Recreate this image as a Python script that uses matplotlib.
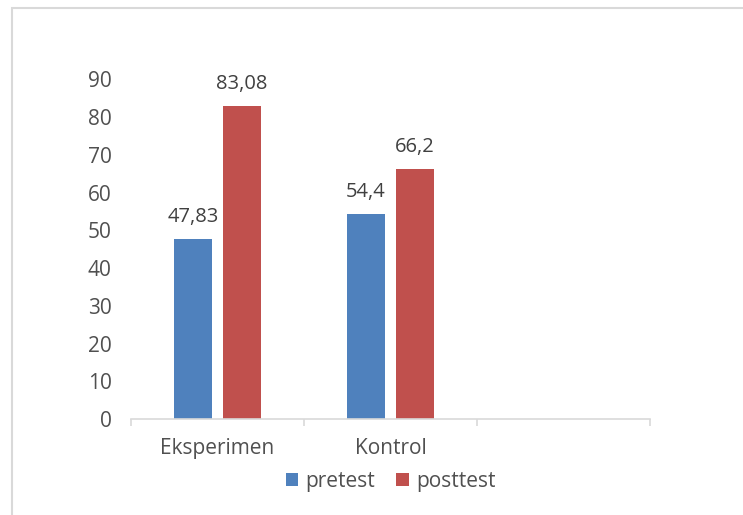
import matplotlib

matplotlib.use("Agg")
import matplotlib.pyplot as plt
import numpy as np
from matplotlib.patches import Rectangle

plt.rcParams["font.family"] = ["Open Sans", "DejaVu Sans"]

categories = ["Eksperimen", "Kontrol", ""]
series_names = ["pretest", "posttest"]
pretest = [47.83, 54.4]
posttest = [83.08, 66.2]
pretest_labels = ["47,83", "54,4"]
posttest_labels = ["83,08", "66,2"]
y_ticks = [0, 10, 20, 30, 40, 50, 60, 70, 80, 90]

blue = "#4F81BD"
red = "#C0504D"
grid_gray = "#D9D9D9"
text_gray = "#505050"
label_gray = "#404040"

W, H = 743, 515
fig = plt.figure(figsize=(W / 100, H / 100), dpi=100)
fig.patches.append(Rectangle((12 / W, -0.1), 1.2, 1.1 - 8 / H, transform=fig.transFigure,
                             fill=False, edgecolor=grid_gray, linewidth=1.5))

ax = fig.add_axes([131 / W, 1 - 419 / H, 519 / W, (419 - 79.5) / H])

bar_w = 38 / 173
gap = 11 / 173
x = np.arange(len(pretest))
off = (bar_w + gap) / 2
b1 = ax.bar(x - off, pretest, bar_w, color=blue, label=series_names[0])
b2 = ax.bar(x + off, posttest, bar_w, color=red, label=series_names[1])

for bars, labels in [(b1, pretest_labels), (b2, posttest_labels)]:
    for rect, lab in zip(bars, labels):
        ax.annotate(lab, (rect.get_x() + rect.get_width() / 2, rect.get_height()),
                    xytext=(0, 8.5), textcoords="offset points", ha="center", va="bottom",
                    fontsize=14.5, color=label_gray)

ax.set_xlim(-0.5, len(categories) - 0.5)
ax.set_ylim(0, 90)
ax.set_yticks(y_ticks)
ax.tick_params(axis="y", length=0, pad=14, labelsize=15, labelcolor=text_gray)

ax.set_xticks(np.arange(len(categories) + 1) - 0.5)
ax.set_xticklabels([])
ax.set_xticks(np.arange(len(categories)), categories, minor=True)
ax.tick_params(axis="x", which="major", length=5, width=1.2, color=grid_gray)
ax.tick_params(axis="x", which="minor", length=0, pad=14, labelsize=15, labelcolor=text_gray)

for side in ["top", "right", "left"]:
    ax.spines[side].set_visible(False)
ax.spines["bottom"].set_color(grid_gray)
ax.spines["bottom"].set_linewidth(1.2)

fig.legend(loc="center", bbox_to_anchor=(390.5 / W, 1 - 481 / H), ncol=2, frameon=False,
           fontsize=15, labelcolor=text_gray, handlelength=0.6, handleheight=0.6,
           handletextpad=0.35, columnspacing=1.0)

fig.savefig("out.png", dpi=100)
